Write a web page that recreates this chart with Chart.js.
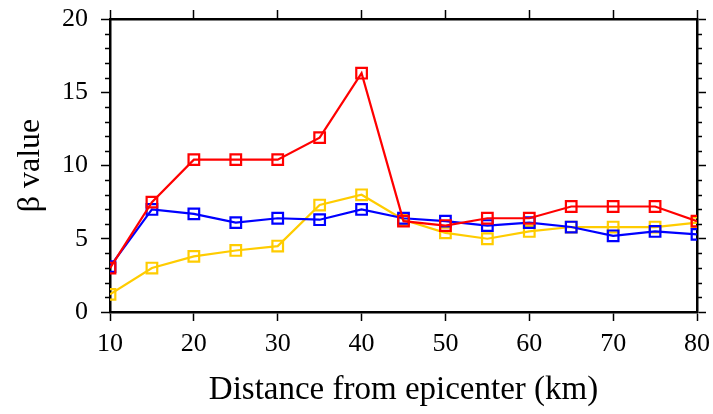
<!DOCTYPE html>
<html>
<head>
<meta charset="utf-8">
<script src="https://cdn.jsdelivr.net/npm/chart.js@4/dist/chart.umd.min.js"></script>
<style>
  html, body { margin: 0; padding: 0; background: #fff; }
  #wrap { width: 713px; height: 414px; }
</style>
</head>
<body>
<div id="wrap"><canvas id="betaChart" width="713" height="414"></canvas></div>
<script>
// distance from epicenter (km) and beta value for each profile
const distances = [10, 15, 20, 25, 30, 35, 40, 45, 50, 55, 60, 65, 70, 75, 80];
const betaRed = [3.0, 7.5, 10.4, 10.4, 10.4, 11.9, 16.3, 6.2, 5.9, 6.4, 6.4, 7.2, 7.2, 7.2, 6.2];
const betaBlue = [3.1, 7.0, 6.7, 6.1, 6.4, 6.3, 7.0, 6.4, 6.2, 5.9, 6.1, 5.8, 5.2, 5.5, 5.3];
const betaYellow = [1.2, 3.0, 3.8, 4.2, 4.5, 7.3, 8.0, 6.3, 5.4, 5.0, 5.5, 5.8, 5.8, 5.8, 6.1];
const xTicks = [10, 20, 30, 40, 50, 60, 70, 80];
const yTicks = [0, 5, 10, 15, 20];

const serif = "'Liberation Serif', 'DejaVu Serif', serif";

function series(values, color) {
  return {
    data: values.map((v, i) => ({ x: distances[i], y: v })),
    borderColor: color,
    backgroundColor: 'rgba(0,0,0,0)',
    borderWidth: 2.2,
    pointStyle: 'rect',
    pointRadius: 7.5,
    pointHoverRadius: 7.5,
    pointBorderWidth: 2.2,
    pointBorderColor: color,
    pointBackgroundColor: 'rgba(0,0,0,0)',
    tension: 0
  };
}

// short minor ticks every 1 unit on both vertical axes
const minorTicks = {
  id: 'minorTicks',
  afterDraw(chart) {
    const ctx = chart.ctx;
    const area = chart.chartArea;
    const y = chart.scales.y;
    ctx.save();
    ctx.strokeStyle = '#000';
    ctx.lineWidth = 1.5;
    for (let v = 0; v <= 20; v++) {
      if (v % 5 === 0) continue;
      const py = Math.round(y.getPixelForValue(v)) + 0.5;
      ctx.beginPath();
      ctx.moveTo(area.left - 5, py);
      ctx.lineTo(area.left, py);
      ctx.moveTo(area.right, py);
      ctx.lineTo(area.right + 5, py);
      ctx.stroke();
    }
    ctx.restore();
  }
};

// fixed axis box sizes, no extra room for overhanging end labels
function fixSize(prop, size) {
  return s => {
    s[prop] = size;
    s.paddingTop = 0;
    s.paddingBottom = 0;
    s.paddingLeft = 0;
    s.paddingRight = 0;
  };
}

const axisGrid = {
  drawOnChartArea: false,
  color: '#000',
  tickLength: 9,
  tickWidth: 1.5
};
const axisBorder = { display: true, color: '#000', width: 2.5 };

new Chart(document.getElementById('betaChart').getContext('2d'), {
  type: 'line',
  data: {
    datasets: [
      series(betaRed, '#ff0000'),
      series(betaBlue, '#0000ff'),
      series(betaYellow, '#ffcc00')
    ]
  },
  options: {
    responsive: false,
    animation: false,
    layout: { padding: 0 },
    plugins: { legend: { display: false }, tooltip: { enabled: false } },
    scales: {
      x: {
        type: 'linear',
        position: 'bottom',
        min: 10,
        max: 80,
        afterBuildTicks: s => { s.ticks = xTicks.map(v => ({ value: v })); },
        afterFit: fixSize('height', 102),
        grid: axisGrid,
        border: axisBorder,
        ticks: { color: '#000', padding: 8, maxRotation: 0, font: { family: serif, size: 26 } },
        title: {
          display: true,
          text: 'Distance from epicenter (km)',
          color: '#000',
          font: { family: serif, size: 33 },
          padding: { top: 0, bottom: 4 }
        }
      },
      x2: {
        type: 'linear',
        position: 'top',
        min: 10,
        max: 80,
        afterBuildTicks: s => { s.ticks = xTicks.map(v => ({ value: v })); },
        afterFit: fixSize('height', 19),
        grid: axisGrid,
        border: axisBorder,
        ticks: { callback: () => '' }
      },
      y: {
        position: 'left',
        min: 0,
        max: 20,
        afterBuildTicks: s => { s.ticks = yTicks.map(v => ({ value: v })); },
        afterFit: fixSize('width', 110),
        grid: axisGrid,
        border: axisBorder,
        ticks: { color: '#000', padding: 13, font: { family: serif, size: 26 } },
        title: {
          display: true,
          text: 'β value',
          color: '#000',
          font: { family: serif, size: 32 },
          padding: { top: 11, bottom: 0 }
        }
      },
      y2: {
        position: 'right',
        min: 0,
        max: 20,
        afterBuildTicks: s => { s.ticks = yTicks.map(v => ({ value: v })); },
        afterFit: fixSize('width', 16),
        grid: axisGrid,
        border: axisBorder,
        ticks: { callback: () => '' }
      }
    }
  },
  plugins: [minorTicks]
});
</script>
</body>
</html>
